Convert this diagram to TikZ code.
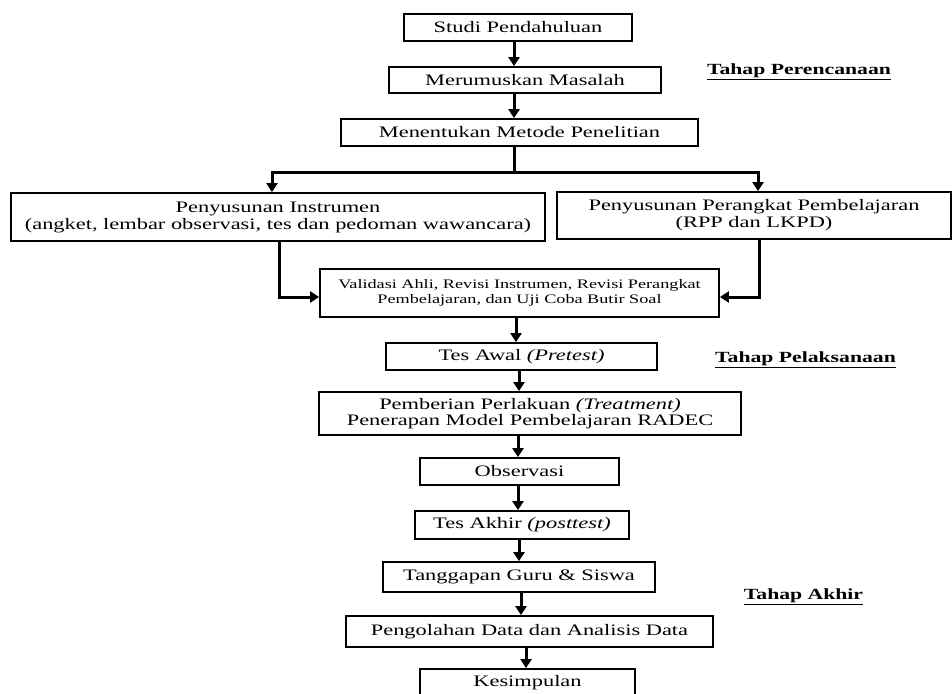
\documentclass[tikz,border=0pt]{standalone}
\usepackage{fontspec}
\setmainfont{Liberation Serif}[FakeStretch=1.4]
\usetikzlibrary{arrows.meta}
\begin{document}
\begin{tikzpicture}[x=1pt,y=-1pt,
  box/.style={draw, line width=1.8pt, inner sep=0pt, align=center, font=\fontsize{16}{17}\selectfont},
  arr/.style={line width=3pt, -{Triangle[width=11pt,length=9pt]}},
  ln/.style={line width=3pt},
  stage/.style={inner sep=0pt, font=\fontsize{15.5}{17}\selectfont\bfseries}]
\useasboundingbox (0,0) rectangle (952,693);
\clip (0,0) rectangle (952,693);

\node[box, minimum width=228pt, minimum height=27pt] (studi) at (518,27.5) {Studi Pendahuluan};
\node[box, minimum width=272pt, minimum height=26pt] (merum) at (525,80) {Merumuskan Masalah};
\node[box, minimum width=357pt, minimum height=27pt] (ment) at (519.5,132.5) {Menentukan Metode Penelitian};
\node[box, minimum width=534pt, minimum height=48pt] (instr) at (278,217) {Penyusunan Instrumen\\(angket, lembar observasi, tes dan pedoman wawancara)};
\node[box, minimum width=394pt, minimum height=47pt] (perang) at (754,215.5) {Penyusunan Perangkat Pembelajaran\\(RPP dan LKPD)};
\node[box, minimum width=399pt, minimum height=48pt, font=\fontsize{13}{15}\selectfont] (valid) at (519.5,293) {Validasi Ahli, Revisi Instrumen, Revisi Perangkat\\Pembelajaran, dan Uji Coba Butir Soal};
\node[box, minimum width=271pt, minimum height=27pt] (tesawal) at (521.5,356.5) {Tes Awal \textit{(Pretest)}};
\node[box, minimum width=422pt, minimum height=43pt, font=\fontsize{16}{16}\selectfont] (pemb) at (530,413.5) {Pemberian Perlakuan \textit{(Treatment)}\\Penerapan Model Pembelajaran RADEC};
\node[box, minimum width=199pt, minimum height=27pt] (obs) at (519.5,471.5) {Observasi};
\node[box, minimum width=214pt, minimum height=28pt] (tesakhir) at (522,525) {Tes Akhir \textit{(posttest)}};
\node[box, minimum width=272pt, minimum height=30pt] (tangg) at (519,577) {Tanggapan Guru \& Siswa};
\node[box, minimum width=367pt, minimum height=31pt] (peng) at (529.5,631.5) {Pengolahan Data dan Analisis Data};
\node[box, minimum width=215pt, minimum height=28pt] (kes) at (527.5,683) {Kesimpulan};

\node[stage] (s1) at (799,72) {\underline{Tahap Perencanaan}};
\node[stage] (s2) at (805.5,360) {\underline{Tahap Pelaksanaan}};
\node[stage] (s3) at (803.5,597) {\underline{Tahap Akhir}};

\draw[arr] ([xshift=-4pt]studi.south) -- ([xshift=-11pt]merum.north);
\draw[arr] ([xshift=-11pt]merum.south) -- ([xshift=-5.5pt]ment.north);

\coordinate (br) at (514,172);
\coordinate (bl) at (272,172);
\coordinate (brr) at (758,172);
\draw[ln] ([xshift=-5.5pt]ment.south) -- (br);
\draw[arr] (br) -| (bl |- instr.north);
\draw[arr] (br) -| (brr |- perang.north);

\draw[arr] ([xshift=1pt]instr.south) |- ([yshift=-4pt]valid.west);
\draw[arr] ([xshift=5pt]perang.south) |- ([yshift=-4pt]valid.east);

\draw[arr] ([xshift=-3.5pt]valid.south) -- ([xshift=-5.5pt]tesawal.north);
\draw[arr] ([xshift=-2.5pt]tesawal.south) -- ([xshift=-11pt]pemb.north);
\draw[arr] ([xshift=-12pt]pemb.south) -- ([xshift=-1.5pt]obs.north);
\draw[arr] ([xshift=-1.5pt]obs.south) -- ([xshift=-4pt]tesakhir.north);
\draw[arr] ([xshift=-3pt]tesakhir.south) -- (tangg.north);
\draw[arr] ([xshift=2pt]tangg.south) -- ([xshift=-8.5pt]peng.north);
\draw[arr] ([xshift=-3.5pt]peng.south) -- ([xshift=-1.5pt]kes.north);
\end{tikzpicture}
\end{document}
